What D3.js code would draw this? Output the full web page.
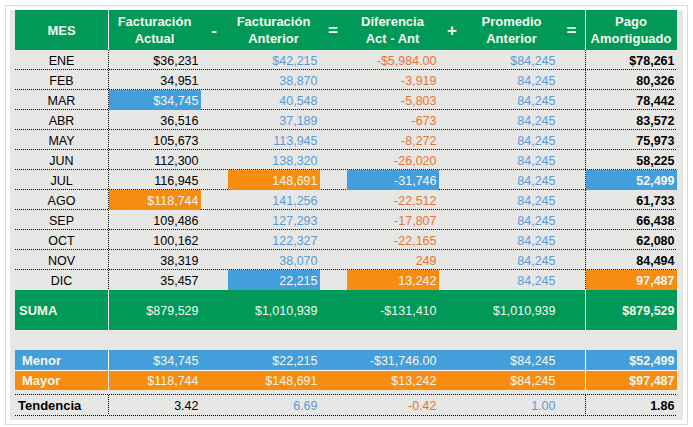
<!DOCTYPE html>
<html>
<head>
<meta charset="utf-8">
<script src="https://cdn.jsdelivr.net/npm/d3@7"></script>
<style>
  body { margin: 0; background: #fff; }
  text { font-family: "Liberation Sans", Arial, sans-serif; }
</style>
</head>
<body>
<div id="chart"></div>
<script>
// values
const months = ["ENE", "FEB", "MAR", "ABR", "MAY", "JUN", "JUL", "AGO", "SEP", "OCT", "NOV", "DIC"]
const headers = [["MES"], ["Facturación", "Actual"], ["Facturación", "Anterior"], ["Diferencia", "Act - Ant"], ["Promedio", "Anterior"], ["Pago", "Amortiguado"]]
const operators = ["-", "=", "+", "="]
const actual = [36231, 34951, 34745, 36516, 105673, 112300, 116945, 118744, 109486, 100162, 38319, 35457]
const anterior = [42215, 38870, 40548, 37189, 113945, 138320, 148691, 141256, 127293, 122327, 38070, 22215]
const diferencia = [-5984, -3919, -5803, -673, -8272, -26020, -31746, -22512, -17807, -22165, 249, 13242]
const promedio = [84245, 84245, 84245, 84245, 84245, 84245, 84245, 84245, 84245, 84245, 84245, 84245]
const pago = [78261, 80326, 78442, 83572, 75973, 58225, 52499, 61733, 66438, 62080, 84494, 97487]
const suma = [879529, 1010939, -131410, 1010939, 879529]
const menor = [34745, 22215, -31746, 84245, 52499]
const mayor = [118744, 148691, 13242, 84245, 97487]
const tendencia = [3.42, 6.69, -0.42, 1.00, 1.86]

const green = "#009957", blue = "#439edc", orange = "#f78c11"
const txtBlue = "#5b9bd5", txtOrange = "#ea7334"

// column edges: MES | Act | op | Ant | op | Dif | op | Prom | op | Pago
const colW = [93, 93, 26, 93, 26, 93, 26, 93, 27, 92]
const edges = [15]
colW.forEach(w => edges.push(edges[edges.length - 1] + w))
const valCols = [1, 3, 5, 7, 9]   // index in colW of the value columns
const opCols = [2, 4, 6, 8]
const left = 15, right = edges[edges.length - 1]

const loc = d3.formatLocale({decimal: ".", thousands: ",", grouping: [3], currency: ["$", ""], minus: "-"})
const fCur = loc.format("$,.0f"), fCur2 = loc.format("$,.2f"), fNum = loc.format(",.0f"), f2 = loc.format(".2f")

const series = [actual, anterior, diferencia, promedio, pago]
const colColor = ["#000", txtBlue, txtOrange, txtBlue, "#000"]

const svg = d3.select("#chart").append("svg").attr("width", 693).attr("height", 427)

// frame + gray background
svg.append("rect").attr("x", 5.5).attr("y", 5.5).attr("width", 682).attr("height", 419)
  .attr("fill", "#fff").attr("stroke", "#dcdcdc")
svg.append("rect").attr("x", 10).attr("y", 10).attr("width", 673).attr("height", 410).attr("fill", "#e7e7e5")

const y = d3.scaleBand().domain(months).range([50, 290])

// header
svg.append("rect").attr("x", left).attr("y", 10).attr("width", right - left).attr("height", 40).attr("fill", green)
const hdrCols = [0].concat(valCols)
headers.forEach((lines, i) => {
  const c = hdrCols[i]
  const cx = (edges[c] + edges[c + 1]) / 2
  const t = svg.append("text").attr("x", cx).attr("text-anchor", "middle")
    .attr("fill", "#f4f8ef").attr("font-size", 13).attr("font-weight", "bold")
  if (lines.length == 1) t.attr("y", 35).text(lines[0])
  else lines.forEach((l, k) => t.append("tspan").attr("x", cx).attr("y", 26 + k * 17).text(l))
})
operators.forEach((op, i) => {
  const c = opCols[i]
  svg.append("text").attr("x", (edges[c] + edges[c + 1]) / 2).attr("y", 36)
    .attr("text-anchor", "middle").attr("fill", "#f4f8ef").attr("font-size", 17).attr("font-weight", "bold")
    .text(op)
})
;[edges[1], edges[9]].forEach(x => svg.append("line").attr("x1", x + 0.5).attr("x2", x + 0.5)
  .attr("y1", 10).attr("y2", 50).attr("stroke", "#fff"))

// dotted grid for month rows
const dot = (x1, y1, x2, y2) => svg.append("line").attr("x1", x1).attr("y1", y1).attr("x2", x2).attr("y2", y2)
  .attr("stroke", "#000").attr("stroke-dasharray", "1,1")
months.slice(1).forEach(m => dot(left, y(m) - 0.5, right, y(m) - 0.5))
;[edges[1], edges[9]].forEach(x => dot(x + 0.5, 50, x + 0.5, 290))

// highlighted min / max cells (Promedio is flat, no highlight)
series.forEach((s, j) => {
  if (j == 3) return
  const lo = d3.minIndex(s), hi = d3.maxIndex(s)
  ;[[lo, blue], [hi, orange]].forEach(([r, col]) => {
    svg.append("rect").attr("x", edges[valCols[j]] + 1).attr("y", y(months[r]))
      .attr("width", colW[valCols[j]] - 1).attr("height", y.bandwidth()).attr("fill", col)
  })
})

// month rows
months.forEach((m, r) => {
  const yy = y(m) + y.bandwidth() / 2 + 4.5
  svg.append("text").attr("x", (edges[0] + edges[1]) / 2).attr("y", yy).attr("text-anchor", "middle")
    .attr("font-size", 12.5).attr("fill", "#000").text(m)
  series.forEach((s, j) => {
    const hl = j != 3 && (r == d3.minIndex(s) || r == d3.maxIndex(s))
    const v = s[r]
    let label = r == 0 ? (j == 2 ? fCur2(v) : fCur(v)) : fNum(v)
    if (hl && (r == 2 || r == 7) && j == 0) label = fCur(v)
    svg.append("text").attr("x", edges[valCols[j] + 1] - 2.5).attr("y", yy).attr("text-anchor", "end")
      .attr("font-size", 12.5).attr("font-weight", j == 4 ? "bold" : null)
      .attr("fill", hl ? "#f7f7f7" : colColor[j]).text(label)
  })
})

// summary rows
function summaryRow(y0, h, fill, name, vals, fmt, opts) {
  if (fill) {
    svg.append("rect").attr("x", left).attr("y", y0).attr("width", right - left).attr("height", h).attr("fill", fill)
    ;[edges[1], edges[9]].forEach(x => svg.append("line").attr("x1", x + 0.5).attr("x2", x + 0.5)
      .attr("y1", y0).attr("y2", y0 + h).attr("stroke", "#fff"))
  }
  const yy = y0 + h / 2 + 4.5
  svg.append("text").attr("x", opts.lx).attr("y", yy).attr("font-size", 13).attr("font-weight", "bold")
    .attr("fill", fill ? "#f4f8ef" : "#000").text(name)
  vals.forEach((v, j) => {
    svg.append("text").attr("x", edges[valCols[j] + 1] - 2.5).attr("y", yy).attr("text-anchor", "end")
      .attr("font-size", 12.5).attr("font-weight", j == 4 ? "bold" : null)
      .attr("fill", fill ? "#f4f8ef" : colColor[j]).text(fmt(v, j))
  })
}
summaryRow(290, 40, green, "SUMA", suma, v => fCur(v), {lx: 19})
summaryRow(350, 20, blue, "Menor", menor, (v, j) => j == 2 ? fCur2(v) : fCur(v), {lx: 22})
summaryRow(370, 20, orange, "Mayor", mayor, v => fCur(v), {lx: 22})
svg.append("line").attr("x1", left).attr("x2", right).attr("y1", 370.5).attr("y2", 370.5).attr("stroke", "#fff")

// tendencia
dot(left, 394.5, right, 394.5)
dot(left, 415.5, right, 415.5)
;[edges[1], edges[9]].forEach(x => dot(x + 0.5, 395, x + 0.5, 415))
summaryRow(395, 20, null, "Tendencia", tendencia, v => f2(v), {lx: 18})
</script>
</body>
</html>
